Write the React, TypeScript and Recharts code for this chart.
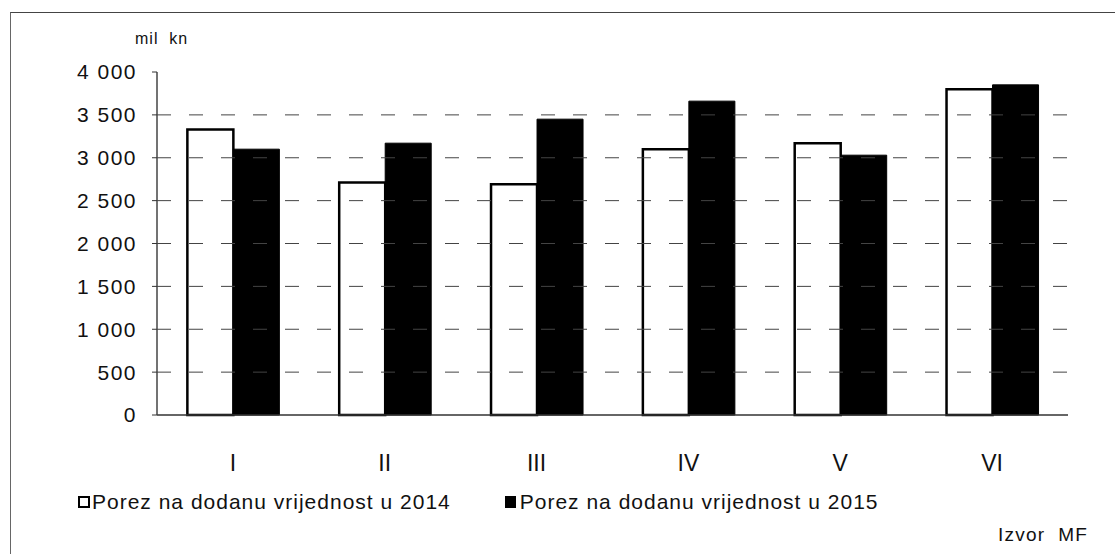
import { BarChart, Bar, XAxis, YAxis, ReferenceLine } from "recharts";

const months = ["I", "II", "III", "IV", "V", "VI"];
const vat2014 = [3330, 2710, 2690, 3100, 3170, 3800];
const vat2015 = [3100, 3170, 3450, 3660, 3030, 3850];
const yTicks = [0, 500, 1000, 1500, 2000, 2500, 3000, 3500, 4000];
const gridValues = [500, 1000, 1500, 2000, 2500, 3000, 3500];

const label2014 = "Porez na dodanu vrijednost u 2014";
const label2015 = "Porez na dodanu vrijednost u 2015";

const data = months.map((m, i) => ({
  month: m,
  v2014: vat2014[i],
  v2015: vat2015[i],
}));

const font = "'Liberation Sans', Arial, sans-serif";

function fmt(v: number) {
  if (v < 1000) return String(v);
  const th = Math.floor(v / 1000);
  const rest = String(v % 1000).padStart(3, "0");
  return `${th} ${rest}`;
}

export default function App() {
  return (
    <div
      style={{
        position: "absolute",
        left: 0,
        top: 0,
        width: 1115,
        height: 554,
        background: "#fff",
        fontFamily: font,
        color: "#111",
        overflow: "hidden",
      }}
    >
      {/* scanned frame: only top and left edges are visible */}
      <div
        style={{
          position: "absolute",
          left: 10,
          top: 12,
          width: 1105,
          height: 542,
          borderLeft: "1px solid #666",
          borderTop: "1px solid #444",
        }}
      />
      <div
        style={{
          position: "absolute",
          left: 135,
          top: 30,
          fontSize: 16,
          letterSpacing: 1,
        }}
      >
        mil&nbsp; kn
      </div>

      <BarChart
        width={1115}
        height={554}
        data={data}
        margin={{ top: 72, right: 47, bottom: 109, left: 0 }}
        barCategoryGap="20%"
        barGap={0}
        style={{ position: "absolute", left: 0, top: 0 }}
      >
        {gridValues.map((g) => (
          <ReferenceLine
            key={g}
            y={g}
            stroke="#444"
            strokeDasharray="14 18"
            strokeWidth={1}
          />
        ))}
        <XAxis
          dataKey="month"
          height={30}
          tickLine={false}
          axisLine={{ stroke: "#333", strokeWidth: 1.5 }}
          tickMargin={34}
          tick={{ fill: "#111", fontSize: 23, fontFamily: font }}
        />
        <YAxis
          width={157}
          domain={[0, 4000]}
          ticks={yTicks}
          interval={0}
          tickFormatter={fmt}
          axisLine={{ stroke: "#444", strokeWidth: 1.5 }}
          tickLine={{ stroke: "#333" }}
          tickSize={5}
          tickMargin={15}
          tick={{
            fill: "#111",
            fontSize: 21,
            fontFamily: font,
            letterSpacing: 1.5,
          }}
        />
        <Bar
          dataKey="v2014"
          name={label2014}
          fill="#fff"
          stroke="#000"
          strokeWidth={2.5}
          isAnimationActive={false}
        />
        <Bar
          dataKey="v2015"
          name={label2015}
          fill="#000"
          stroke="#000"
          strokeWidth={1}
          isAnimationActive={false}
        />
      </BarChart>

      <div
        style={{
          position: "absolute",
          left: 78,
          top: 490,
          fontSize: 21,
          letterSpacing: 1,
          display: "flex",
          alignItems: "center",
          whiteSpace: "nowrap",
        }}
      >
        <span
          style={{
            display: "inline-block",
            width: 8,
            height: 8,
            border: "2px solid #000",
            background: "#fff",
            marginRight: 2,
          }}
        />
        <span>{label2014}</span>
        <span
          style={{
            display: "inline-block",
            width: 11,
            height: 12,
            background: "#000",
            marginLeft: 54,
            marginRight: 4,
          }}
        />
        <span>{label2015}</span>
      </div>

      <div
        style={{
          position: "absolute",
          left: 998,
          top: 524,
          fontSize: 19,
          letterSpacing: 1.2,
        }}
      >
        Izvor&nbsp; MF
      </div>
    </div>
  );
}
